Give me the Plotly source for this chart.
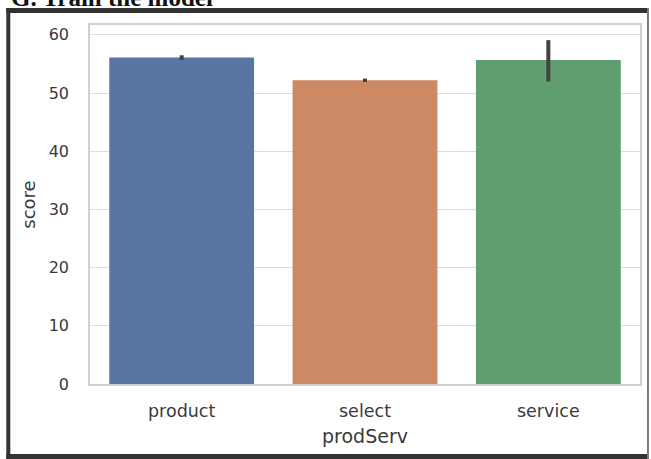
import plotly.graph_objects as go

categories = ["product", "select", "service"]
means = [56.1, 52.2, 55.7]
ci_low = [55.7, 51.9, 52.0]
ci_high = [56.5, 52.5, 59.1]
colors = ["#5975a4", "#cc8963", "#5f9e6e"]
y_ticks = [0, 10, 20, 30, 40, 50, 60]

W, H = 651, 459
L, R, T, B = 90, 642, 25, 384

def px(x):
    return (x - L) / (R - L)

def py(y):
    return (B - y) / (B - T)

fig = go.Figure()
fig.add_trace(go.Bar(
    x=categories, y=means, width=0.79,
    marker=dict(color=colors, line=dict(width=0)),
    error_y=dict(type="data", symmetric=False,
                 array=[h - m for h, m in zip(ci_high, means)],
                 arrayminus=[m - l for m, l in zip(means, ci_low)],
                 color="#424242", thickness=4, width=0),
))

fig.update_layout(
    width=W, height=H,
    margin=dict(l=L, r=W - R, t=T, b=H - B),
    paper_bgcolor="white", plot_bgcolor="white",
    showlegend=False, bargap=0.21,
    xaxis=dict(range=[-0.5, 2.5], showgrid=False, showline=True, mirror=True,
               linecolor="#d0d0d0", linewidth=1.5, ticks="",
               tickfont=dict(family="DejaVu Sans", size=17.5, color="#3a3a3a"),
               ticklabelstandoff=10,
               title=dict(text="prodServ", font=dict(family="DejaVu Sans", size=19, color="#3a3a3a"), standoff=10)),
    yaxis=dict(range=[0, 61.7], tickvals=y_ticks, showgrid=True, gridcolor="#dcdcdc", gridwidth=1.3,
               showline=True, mirror=True, linecolor="#d0d0d0", linewidth=1.5, ticks="",
               tickfont=dict(family="DejaVu Sans", size=16, color="#3a3a3a"),
               ticklabelstandoff=16, zeroline=False,
               title=dict(text="score", font=dict(family="DejaVu Sans", size=18, color="#3a3a3a"), standoff=8)),
)

border = "#333333"
for (x0, y0, x1, y1, c) in [(6, 8, 651, 13, border), (6, 8, 10, 459, border),
                            (6, 454, 651, 459, border), (649, 8, 651, 459, "#7a7a7a")]:
    fig.add_shape(type="rect", xref="paper", yref="paper",
                  x0=px(x0), x1=px(x1), y0=py(y1), y1=py(y0),
                  fillcolor=c, line=dict(width=0), layer="above")

fig.add_annotation(text="<b>G. Train the model</b>", xref="paper", yref="paper",
                   x=px(9), y=py(13), xanchor="left", yanchor="bottom", showarrow=False,
                   font=dict(family="Liberation Serif", size=25, color="#111111"))

fig.write_html("out.html")
